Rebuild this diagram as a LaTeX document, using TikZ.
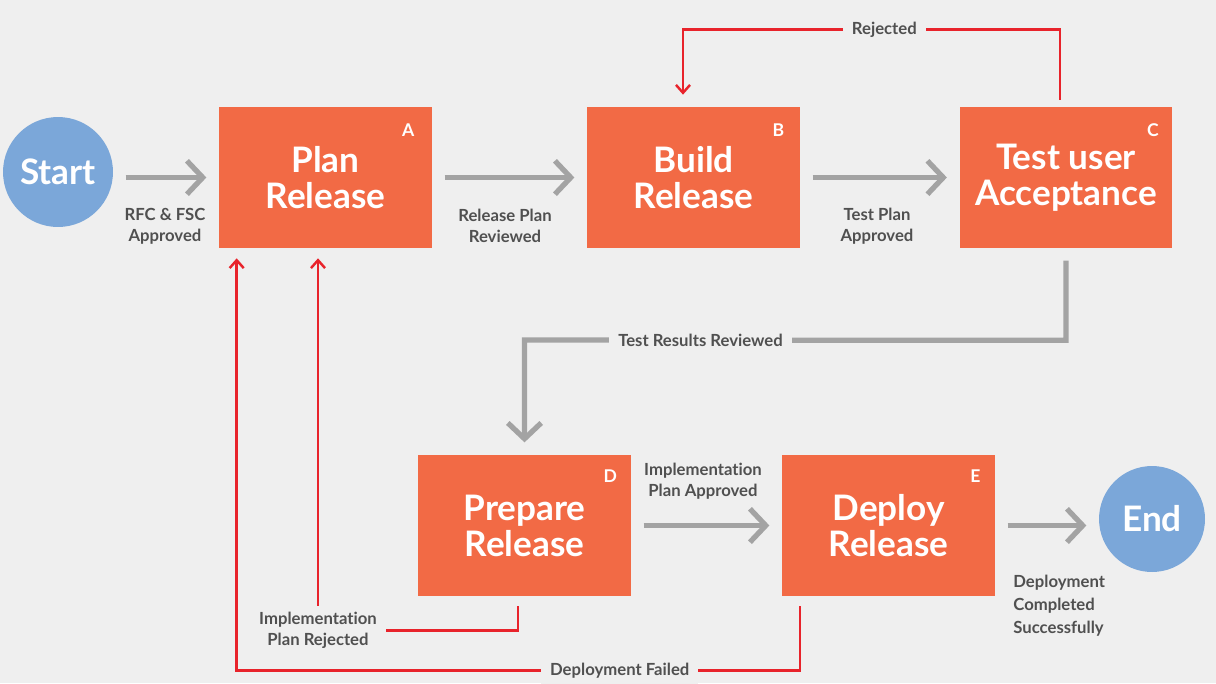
\documentclass[tikz,border=0pt]{standalone}
\usepackage{fontspec}
\setmainfont{Lato}[Ligatures={NoCommon,NoRare}]
\usetikzlibrary{arrows.meta,calc}
\definecolor{boxorange}{HTML}{F26A45}
\definecolor{termblue}{HTML}{7BA7D9}
\definecolor{arrowgray}{HTML}{A3A3A3}
\definecolor{loopred}{HTML}{E8232B}
\definecolor{notegray}{HTML}{505050}
\definecolor{paper}{HTML}{EFEFEF}

\begin{document}
\begin{tikzpicture}[x=0.02cm,y=-0.02cm,
    stepbox/.style={fill=boxorange, minimum width=4.26cm, minimum height=2.82cm, inner sep=0pt,
      text=white, align=center, font=\fontsize{20}{20.5}\selectfont\bfseries},
    term/.style={circle, fill=termblue, minimum size=2.2cm, inner sep=0pt,
      text=white, font=\fontsize{20}{20.5}\selectfont\bfseries},
    tag/.style={text=white, font=\fontsize{10}{12}\selectfont\bfseries},
    note/.style={text=notegray, align=center, inner xsep=5pt, font=\fontsize{9.5}{12}\selectfont\bfseries},
    flow/.style={arrowgray, line width=3pt, shorten <=7pt, shorten >=7pt,
      -{Straight Barb[length=9pt,width=19pt]}},
    back/.style={loopred, line width=1.4pt, -{Straight Barb[length=4.5pt,width=8pt]}}]
    \fill[paper] (0,0) rectangle (1216,683);
    % stages
    \node[term] (start) at (58,172) {Start};
    \node[stepbox] (plan) at (325.5,177.5) {Plan\\Release};
    \node[stepbox] (build) at (693.5,177.5) {Build\\Release};
    \node[stepbox] (test) at (1066,177.5) {Test user\\Acceptance};
    \node[stepbox] (prepare) at (524.5,525.5) {Prepare\\Release};
    \node[stepbox] (deploy) at (888.5,525.5) {Deploy\\Release};
    \node[term, minimum size=2.12cm] (end) at (1152,519) {End};
    \node[tag] (plan-tag) at ($(plan.north east)+(-24,23)$) {A};
    \node[tag] (build-tag) at ($(build.north east)+(-22,23)$) {B};
    \node[tag] (test-tag) at ($(test.north east)+(-20,23)$) {C};
    \node[tag] (prepare-tag) at ($(prepare.north east)+(-21,21)$) {D};
    \node[tag] (deploy-tag) at ($(deploy.north east)+(-20,21)$) {E};
    % forward flow
    \draw[flow] (plan.west -| start.east) -- (plan.west);
    \node[note] (rfc-note) at (165,226) {RFC \& FSC\\Approved};
    \draw[flow] (plan) -- (build);
    \node[note] (plan-note) at (505,226) {Release Plan\\Reviewed};
    \draw[flow] (build) -- (test);
    \node[note] (build-note) at (877,226) {Test Plan\\Approved};
    \draw[flow] (test.south) -- ++(0,92) -- node[pos=0.675, note, fill=paper] {Test Results Reviewed}
      (prepare.north |- 0,340) -- (prepare.north);
    \draw[flow] (prepare) -- (deploy);
    \node[note] (prepare-note) at (703,481) {Implementation\\Plan Approved};
    \draw[flow] (deploy.east) -- (deploy.east -| end.west);
    \node[note, align=left, anchor=west, inner xsep=0pt, font=\fontsize{9.5}{13}\selectfont\bfseries]
      (deploy-note) at (1013,606) {Deployment\\Completed\\Successfully};
    % loops back
    \draw[back] ($(test.north)+(-6,-7)$) -- ++(0,-70)
      -| node[pos=0.233, note, fill=paper] {Rejected} ($(build.north)+(-10.5,-12)$);
    \draw[back] ($(prepare.south)+(-6.5,10)$) -- ++(0,24)
      -| node[pos=0.5, note, fill=paper] {Implementation\\Plan Rejected} ($(plan.south)+(-7.5,10)$);
    \draw[back] ($(deploy.south)+(-88.5,10)$) -- ++(0,64)
      -| node[pos=0.16, note, fill=paper] {Deployment Failed} ($(plan.south west)+(18,10)$);
\end{tikzpicture}
\end{document}
